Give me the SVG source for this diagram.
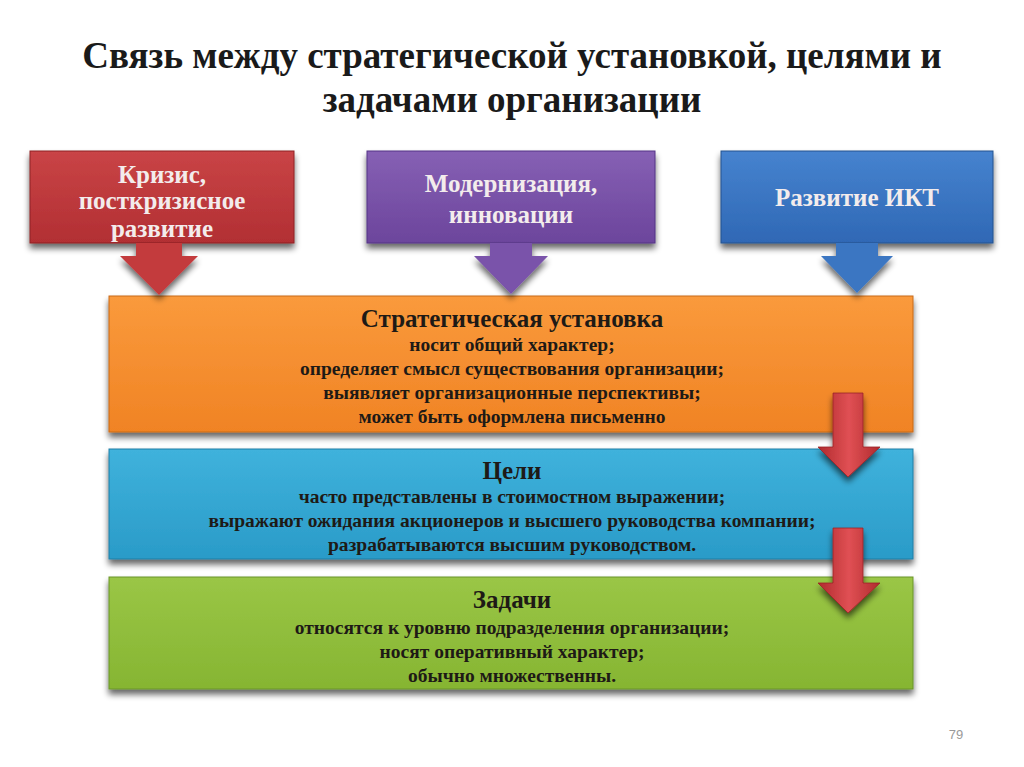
<svg xmlns="http://www.w3.org/2000/svg" width="1024" height="767" viewBox="0 0 1024 767">
<style>
.title{font-family:"Liberation Serif",serif;font-weight:bold;font-size:37px;fill:#1a1a1a;text-anchor:middle}
.top{font-family:"Liberation Serif",serif;font-weight:bold;font-size:25px;fill:#f3ecec;text-anchor:middle}
.head{font-family:"Liberation Serif",serif;font-weight:bold;font-size:25px;fill:#1e1a16;text-anchor:middle}
.body{font-family:"Liberation Serif",serif;font-weight:bold;font-size:19.5px;fill:#1e1a16;text-anchor:middle}
.num{font-family:"Liberation Sans",sans-serif;font-size:13px;fill:#999;text-anchor:middle}
</style>
<defs>
<filter id="sh" x="-10%" y="-20%" width="120%" height="150%">
<feGaussianBlur in="SourceAlpha" stdDeviation="3"/>
<feOffset dx="0" dy="5" result="b"/>
<feComponentTransfer><feFuncA type="linear" slope="0.6"/></feComponentTransfer>
<feMerge><feMergeNode/><feMergeNode in="SourceGraphic"/></feMerge>
</filter>
<linearGradient id="gRed" x1="0" y1="0" x2="0" y2="1"><stop offset="0" stop-color="#c94446"/><stop offset="1" stop-color="#b22f33"/></linearGradient>
<linearGradient id="gPur" x1="0" y1="0" x2="0" y2="1"><stop offset="0" stop-color="#8660b4"/><stop offset="1" stop-color="#6c459c"/></linearGradient>
<linearGradient id="gBlu" x1="0" y1="0" x2="0" y2="1"><stop offset="0" stop-color="#4683cf"/><stop offset="1" stop-color="#2f68b5"/></linearGradient>
<linearGradient id="gOra" x1="0" y1="0" x2="0" y2="1"><stop offset="0" stop-color="#fa9a3c"/><stop offset="1" stop-color="#f08324"/></linearGradient>
<linearGradient id="gCya" x1="0" y1="0" x2="0" y2="1"><stop offset="0" stop-color="#3fb2dc"/><stop offset="1" stop-color="#2a9bc8"/></linearGradient>
<linearGradient id="gGrn" x1="0" y1="0" x2="0" y2="1"><stop offset="0" stop-color="#9ac646"/><stop offset="1" stop-color="#86b532"/></linearGradient>
<linearGradient id="gArr" x1="0" y1="0" x2="1" y2="0"><stop offset="0" stop-color="#b02a2e"/><stop offset="0.5" stop-color="#e05054"/><stop offset="1" stop-color="#b02a2e"/></linearGradient>
</defs>
<rect width="1024" height="767" fill="#ffffff"/>
<text class="title" x="512" y="68">Связь между стратегической установкой, целями и</text>
<text class="title" x="512" y="112">задачами организации</text>

<g id="node-crisis">
<rect x="30" y="151" width="264" height="92" fill="url(#gRed)" stroke="#8e2226" stroke-width="1" filter="url(#sh)"/>
<text class="top" x="162" y="183">Кризис,</text>
<text class="top" x="162" y="209">посткризисное</text>
<text class="top" x="162" y="237">развитие</text>
</g>
<g id="node-modern">
<rect x="367" y="151" width="288" height="92" fill="url(#gPur)" stroke="#553585" stroke-width="1" filter="url(#sh)"/>
<text class="top" x="511" y="192">Модернизация,</text>
<text class="top" x="511" y="223">инновации</text>
</g>
<g id="node-ikt">
<rect x="721" y="151" width="272" height="92" fill="url(#gBlu)" stroke="#24538f" stroke-width="1" filter="url(#sh)"/>
<text class="top" x="857" y="206">Развитие ИКТ</text>
</g>

<g id="node-strategy">
<rect x="109" y="296" width="804" height="136" fill="url(#gOra)" stroke="#c86a18" stroke-width="1" filter="url(#sh)"/>
<text class="head" x="512" y="327">Стратегическая установка</text>
<text class="body" x="512" y="351">носит общий характер;</text>
<text class="body" x="512" y="375">определяет смысл существования организации;</text>
<text class="body" x="512" y="399">выявляет организационные перспективы;</text>
<text class="body" x="512" y="423">может быть оформлена письменно</text>
</g>
<g id="node-goals">
<rect x="109" y="449" width="804" height="110" fill="url(#gCya)" stroke="#1f7ea6" stroke-width="1" filter="url(#sh)"/>
<text class="head" x="512" y="479">Цели</text>
<text class="body" x="512" y="503">часто представлены в стоимостном выражении;</text>
<text class="body" x="512" y="527">выражают ожидания акционеров и высшего руководства компании;</text>
<text class="body" x="512" y="551">разрабатываются высшим руководством.</text>
</g>
<g id="node-tasks">
<rect x="109" y="577" width="804" height="112" fill="url(#gGrn)" stroke="#6a9428" stroke-width="1" filter="url(#sh)"/>
<text class="head" x="512" y="608">Задачи</text>
<text class="body" x="512" y="634">относятся к уровню подразделения организации;</text>
<text class="body" x="512" y="658">носят оперативный характер;</text>
<text class="body" x="512" y="682">обычно множественны.</text>
</g>

<g id="connectors" filter="url(#sh)">
<path d="M136 243 H182 V256 H198 L159 295 L120 256 H136 Z" fill="#c33a3d"/>
<path d="M490 243 H532 V256 H548 L511 294 L474 256 H490 Z" fill="#7a52aa"/>
<path d="M836 243 H878 V256 H893 L857 293 L821 256 H836 Z" fill="#3b76c2"/>
<path d="M833 393 H863 V447 H880 L848 477 L818 447 H833 Z" fill="url(#gArr)" stroke="#9a2226" stroke-width="0.8"/>
<path d="M833 528 H863 V583 H880 L848 613 L818 583 H833 Z" fill="url(#gArr)" stroke="#9a2226" stroke-width="0.8"/>
</g>

<text class="num" x="956" y="739">79</text>
</svg>
